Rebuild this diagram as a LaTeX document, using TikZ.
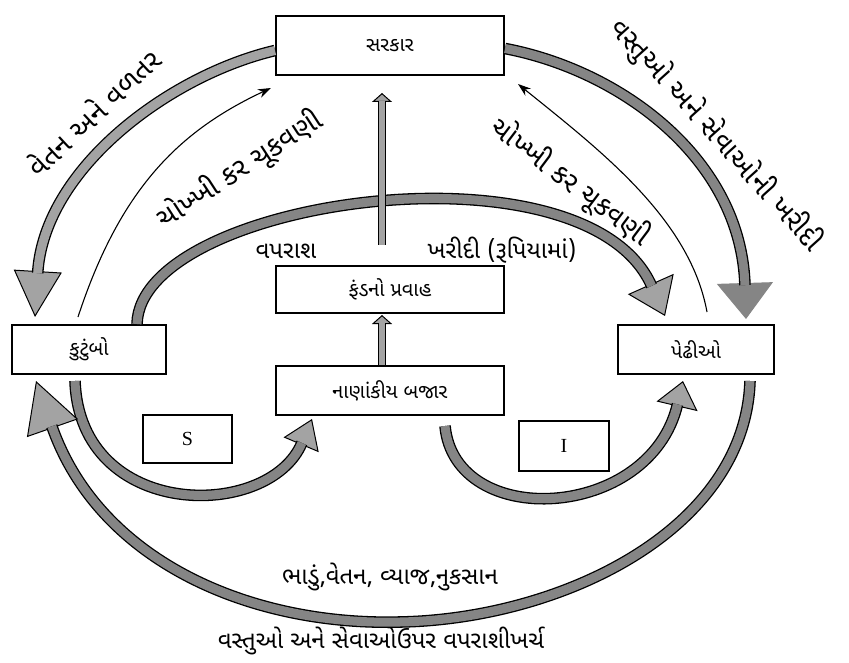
\documentclass[tikz,border=0pt]{standalone}
\usepackage{fontspec}
\setmainfont{Liberation Serif}
\newfontfamily\guj[Script=Gujarati]{Noto Sans Gujarati UI}
\usetikzlibrary{arrows.meta}
\definecolor{headgray}{gray}{0.64}
\definecolor{flowgray}{gray}{0.52}
\begin{document}
\begin{tikzpicture}[x=1pt,y=-1pt,
		box/.style={draw,line width=2pt,inner sep=0pt,font=\guj\fontsize{20}{23}\selectfont},
		lbl/.style={font=\guj\fontsize{24}{28}\selectfont},
		slant/.style={font=\guj\fontsize{28}{32}\selectfont,rotate=#1},
		shaft/.style={double=#1,double distance=9pt,line width=1.3pt},
		pipe/.style={double=headgray,double distance=6pt,line width=1.3pt},
		tax/.style={line width=1.1pt,-{Stealth[length=13pt,width=9pt]}}]
			\useasboundingbox (0,0) rectangle (849,663);
			\node[box,minimum width=228pt,minimum height=59pt] at (390,45.5) (gov) {સરકાર};
			\node[box,minimum width=228pt,minimum height=47pt] at (390,289.5) (fund) {ફંડનો પ્રવાહ};
			\node[box,minimum width=228pt,minimum height=49pt] at (390,390.5) (mkt) {નાણાંકીય બજાર};
			\node[box,minimum width=154pt,minimum height=49pt] at (89,349.5) (hh) {કુટુંબો};
			\node[box,minimum width=156pt,minimum height=49pt] at (696,349.5) (firms) {પેઢીઓ};
			\node[box,minimum width=89pt,minimum height=48pt,font=\fontsize{20}{24}\selectfont] at (187.5,439) (save) {S};
			\node[box,minimum width=90pt,minimum height=50pt,font=\fontsize{20}{24}\selectfont] at (564,446) (inv) {I};
			\node[lbl] at (286,251) (cons) {વપરાશ};
			\node[lbl] at (502,250) (buy) {ખરીદી (રૂપિયામાં)};
			\node[lbl] at (390,577) (rent) {ભાડું,વેતન, વ્યાજ,નુકસાન};
			\node[lbl] at (381,641) (spend) {વસ્તુઓ અને સેવાઓઉપર વપરાશીખર્ચ};
			\node[slant=43] at (93,112) (wage) {વેતન અને વળતર};
			\node[slant=33] at (240,170) (taxl) {ચોખ્ખી કર ચૂકવણી};
			\node[slant=-37] at (570,182) (taxr) {ચોખ્ખી કર ચૂકવણી};
			\node[slant=-48] at (716,135) (goods) {વસ્તુઓ અને સેવાઓની ખરીદી};
			\coordinate (a1) at ([yshift=-5pt]gov.west);
			\coordinate (b1) at ([xshift=24pt,yshift=7pt]hh.north west);
			\coordinate (a3) at ([xshift=48pt]hh.north);
			\coordinate (b3) at ([xshift=-31pt,yshift=8pt]firms.north);
			\coordinate (a7) at ([yshift=-3pt]gov.east);
			\coordinate (b7) at ([xshift=-29pt,yshift=5pt]firms.north east);
			\coordinate (a8) at ([xshift=-14pt,yshift=-6pt]hh.south);
			\coordinate (b8) at ([xshift=37pt,yshift=-3pt]mkt.south west);
			\coordinate (a9) at ([xshift=55pt,yshift=-10pt]mkt.south);
			\coordinate (b9) at ([xshift=-13pt,yshift=-6pt]firms.south);
			\coordinate (a10) at ([xshift=54pt,yshift=-6pt]firms.south);
			\coordinate (low) at (400,622);
			\coordinate (b10) at ([xshift=25pt,yshift=-6pt]hh.south west);
			\coordinate (top) at ([xshift=-8pt]fund.north |- 0,245);
			\draw[line width=1pt,-{Triangle[width=48pt,length=46pt,fill=headgray]}] (a1) .. controls +(-106,25) and +(9,-148) .. (b1);
			\draw[shaft=headgray,shorten >=44pt] (a1) .. controls +(-106,25) and +(9,-148) .. (b1);
			\draw[line width=1pt,-{Triangle[width=50pt,length=35pt,fill=headgray]}] (a3) .. controls +(3,-125) and +(-80,-180) .. (b3);
			\draw[shaft=flowgray,shorten >=33pt] (a3) .. controls +(3,-125) and +(-80,-180) .. (b3);
			\draw[line width=1pt,-{Triangle[width=56pt,length=36pt,fill=flowgray,color=flowgray]}] (a7) .. controls +(116,22) and +(-5,-160) .. (b7);
			\draw[shaft=flowgray,shorten >=34pt] (a7) .. controls +(116,22) and +(-5,-160) .. (b7);
			\draw[line width=1pt,-{Triangle[width=38pt,length=28pt,fill=headgray]}] (a8) .. controls +(5,140) and +(-43,102) .. (b8);
			\draw[shaft=flowgray,shorten >=26pt] (a8) .. controls +(5,140) and +(-43,102) .. (b8);
			\draw[line width=1pt,-{Triangle[width=42pt,length=26pt,fill=headgray]}] (a9) .. controls +(10,105) and +(-33,140) .. (b9);
			\draw[shaft=flowgray,shorten >=24pt] (a9) .. controls +(10,105) and +(-33,140) .. (b9);
			\draw[line width=1pt,-{Triangle[width=54pt,length=50pt,fill=headgray]}] (a10) .. controls +(-5,150) and +(160,-3) .. (low) .. controls +(-150,4) and +(63,180) .. (b10);
			\draw[shaft=flowgray,shorten >=48pt] (a10) .. controls +(-5,150) and +(160,-3) .. (low) .. controls +(-150,4) and +(63,180) .. (b10);
			\draw[line width=1pt,-{Triangle[width=20pt,length=9pt,fill=headgray]}] (top) -- ([xshift=-8pt,yshift=-17pt]gov.south);
			\draw[pipe,shorten >=8pt] (top) -- ([xshift=-8pt,yshift=-17pt]gov.south);
			\draw[line width=1pt,-{Triangle[width=20pt,length=9pt,fill=headgray]}] ([xshift=-8pt]mkt.north) -- ([xshift=-8pt,yshift=-1pt]fund.south);
			\draw[pipe,shorten >=8pt] ([xshift=-8pt]mkt.north) -- ([xshift=-8pt,yshift=-1pt]fund.south);
			\draw[tax] ([xshift=-11pt,yshift=7pt]hh.north) .. controls +(42,-128) and +(-92,43) .. ([xshift=-4pt,yshift=-12pt]gov.south west);
			\draw[tax] ([xshift=11pt,yshift=12pt]firms.north) .. controls +(-17,-93) and +(83,67) .. ([xshift=13pt,yshift=-8pt]gov.south east);
		\end{tikzpicture}
\end{document}
